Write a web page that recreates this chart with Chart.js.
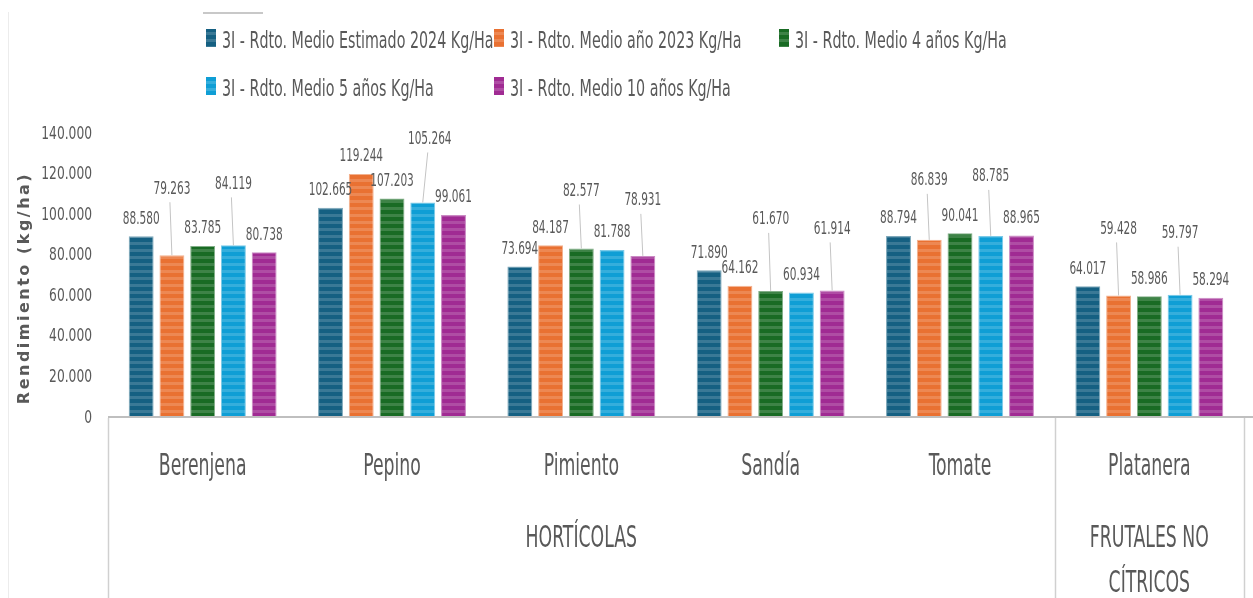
<!DOCTYPE html>
<html lang="es">
<head>
<meta charset="utf-8">
<title>Rendimiento (kg/ha)</title>
<script src="https://cdn.jsdelivr.net/npm/chart.js@4.4.0/dist/chart.umd.min.js"></script>
<style>
  html, body { margin: 0; padding: 0; background: #fff; }
  #wrap { width: 1253px; height: 598px; }
</style>
</head>
<body>
<div id="wrap"><canvas id="chart" width="1253" height="598"></canvas></div>
<script>
// categorías y grupos
const categories = ['Berenjena', 'Pepino', 'Pimiento', 'Sandía', 'Tomate', 'Platanera'];
const groupNames = [['HORTÍCOLAS'], ['FRUTALES NO', 'CÍTRICOS']];
const groupSizes = [5, 1];

// series (kg/ha)
const seriesNames = [
    '3I - Rdto. Medio Estimado 2024 Kg/Ha',
    '3I - Rdto. Medio año 2023 Kg/Ha',
    '3I - Rdto. Medio 4 años Kg/Ha',
    '3I - Rdto. Medio 5 años Kg/Ha',
    '3I - Rdto. Medio 10 años Kg/Ha'
];
const est2024 = [88580, 102665, 73694, 71890, 88794, 64017];
const ano2023 = [79263, 119244, 84187, 64162, 86839, 59428];
const medio4 = [83785, 107203, 82577, 61670, 90041, 58986];
const medio5 = [84119, 105264, 81788, 60934, 88785, 59797];
const medio10 = [80738, 99061, 78931, 61914, 88965, 58294];

// eje Y
const yTicks = [0, 20000, 40000, 60000, 80000, 100000, 120000, 140000];

const colors = ['#156082', '#E97132', '#196B24', '#0F9ED5', '#A02B93'];
const cond = "'DejaVu Sans Condensed', 'DejaVu Sans', sans-serif";
const textColor = '#595959';

// etiquetas desplazadas con línea guía: [categoría, serie, subida px, desplazamiento x]
const liftedLabels = [
    [0, 1, 49, 0], [0, 3, 44, 0],
    [1, 3, 46, 7],
    [2, 2, 40, 0], [2, 4, 38, 0],
    [3, 2, 54, 0], [3, 4, 44, 0],
    [4, 1, 42, 0], [4, 3, 42, 0],
    [5, 1, 49, 0], [5, 3, 44, 0]
];

function fmt(v) {
    return String(v).replace(/\B(?=(\d{3})+(?!\d))/g, '.');
}

function mix(hex, t) {
    const n = parseInt(hex.slice(1), 16);
    const r = n >> 16, g = (n >> 8) & 255, b = n & 255;
    const m = c => Math.round(c + (255 - c) * t);
    return `rgb(${m(r)}, ${m(g)}, ${m(b)})`;
}

function stripes(hex) {
    const c = document.createElement('canvas');
    c.width = 4; c.height = 7;
    const g = c.getContext('2d');
    g.fillStyle = hex;
    g.fillRect(0, 0, 4, 7);
    g.fillStyle = mix(hex, 0.16);
    g.fillRect(0, 4, 4, 3);
    return g.createPattern(c, 'repeat');
}

// texto estrecho: fuente condensada comprimida en horizontal, y = centro de mayúsculas
function narrowText(ctx, str, x, y, size, sx, align) {
    ctx.save();
    ctx.translate(x, y + size * 0.3645);
    ctx.scale(sx, 1);
    ctx.font = `${size}px ${cond}`;
    ctx.textAlign = align || 'center';
    ctx.textBaseline = 'alphabetic';
    ctx.fillStyle = textColor;
    ctx.fillText(str, 0, 0);
    ctx.restore();
}

const seriesData = [est2024, ano2023, medio4, medio5, medio10];

const decor = {
    id: 'decor',
    afterDraw(chart) {
        const ctx = chart.ctx;
        const xs = chart.scales.x;
        const ys = chart.scales.y;
        const ca = chart.chartArea;
        const W = chart.width, H = chart.height;

        ctx.save();
        // borde izquierdo tenue y línea superior
        ctx.strokeStyle = '#ececec';
        ctx.lineWidth = 1;
        ctx.beginPath(); ctx.moveTo(8.5, 12); ctx.lineTo(8.5, H); ctx.stroke();
        ctx.strokeStyle = '#c8c8c8';
        ctx.lineWidth = 2;
        ctx.beginPath(); ctx.moveTo(203, 13); ctx.lineTo(263, 13); ctx.stroke();

        // eje Y: marcas
        yTicks.forEach(v => narrowText(ctx, fmt(v), 92, ys.getPixelForValue(v), 18.2, 0.75, 'right'));

        // eje X jerárquico
        const step = xs.getPixelForValue(1) - xs.getPixelForValue(0);
        ctx.strokeStyle = '#bfbfbf';
        ctx.lineWidth = 2;
        ctx.beginPath(); ctx.moveTo(ca.left, ca.bottom + 1); ctx.lineTo(W, ca.bottom + 1); ctx.stroke();
        ctx.strokeStyle = '#d0d0d0';
        ctx.lineWidth = 1.5;
        let start = 0;
        const edges = [0];
        groupSizes.forEach(s => { start += s; edges.push(start); });
        edges.forEach(e => {
            const px = Math.round(xs.getPixelForValue(0) - step / 2 + e * step) + 0.5;
            ctx.beginPath(); ctx.moveTo(px, ca.bottom + 2); ctx.lineTo(px, H); ctx.stroke();
        });
        categories.forEach((c, i) => narrowText(ctx, c, xs.getPixelForValue(i), 463.5, 31, 0.62));
        groupNames.forEach((lines, gi) => {
            const a = edges[gi], b = edges[gi + 1];
            const cx = xs.getPixelForValue(0) - step / 2 + (a + b) / 2 * step;
            lines.forEach((t, li) => narrowText(ctx, t, cx, 536 + li * 45, 31, 0.62));
        });

        // etiquetas de datos
        chart.data.datasets.forEach((ds, di) => {
            chart.getDatasetMeta(di).data.forEach((bar, i) => {
                const lift = liftedLabels.find(l => l[0] === i && l[1] === di);
                const lx = bar.x + (lift ? lift[3] : 0);
                const ly = bar.y - 19 - (lift ? lift[2] : 0);
                if (lift) {
                    ctx.strokeStyle = '#c4c4c4';
                    ctx.lineWidth = 1;
                    ctx.beginPath(); ctx.moveTo(bar.x, bar.y); ctx.lineTo(lx - 2, ly + 15); ctx.stroke();
                }
                narrowText(ctx, fmt(ds.data[i]), lx, ly, 17.5, 0.67);
            });
        });

        // leyenda en rejilla
        const colX = [206, 494, 779];
        const rowY = [38, 86];
        chart.data.datasets.forEach((ds, di) => {
            const bx = colX[di % 3], by = rowY[Math.floor(di / 3)];
            ctx.fillStyle = ds.backgroundColor;
            ctx.fillRect(bx, by - 9, 10, 18);
            narrowText(ctx, ds.label, bx + 16, by + 1, 23.5, 0.675, 'left');
        });

        // título del eje Y
        ctx.translate(25, 288);
        ctx.rotate(-Math.PI / 2);
        ctx.font = "bold 16px 'DejaVu Sans', sans-serif";
        ctx.letterSpacing = '2.5px';
        ctx.textAlign = 'center';
        ctx.textBaseline = 'middle';
        ctx.fillStyle = textColor;
        ctx.fillText('Rendimiento (kg/ha)', 0, 0);
        ctx.restore();
    }
};

new Chart(document.getElementById('chart'), {
    type: 'bar',
    data: {
        labels: categories,
        datasets: seriesData.map((d, i) => ({
            label: seriesNames[i],
            data: d,
            backgroundColor: stripes(colors[i]),
            borderColor: mix(colors[i], 0.45),
            borderWidth: 1,
            categoryPercentage: 0.812,
            barPercentage: 0.81
        }))
    },
    options: {
        responsive: false,
        devicePixelRatio: 1,
        animation: false,
        layout: { padding: { top: 132, right: 9, left: 0, bottom: 0 } },
        plugins: {
            legend: { display: false },
            tooltip: { enabled: false }
        },
        scales: {
            x: {
                grid: { display: false, drawTicks: false },
                border: { display: false },
                ticks: { display: false },
                afterFit(scale) { scale.height = 182; }
            },
            y: {
                min: 0,
                max: 140000,
                grid: { display: false, drawTicks: false },
                border: { display: false },
                afterBuildTicks(scale) { scale.ticks = yTicks.map(v => ({ value: v })); },
                ticks: { display: false },
                afterFit(scale) { scale.width = 108; }
            }
        }
    },
    plugins: [decor]
});
</script>
</body>
</html>
